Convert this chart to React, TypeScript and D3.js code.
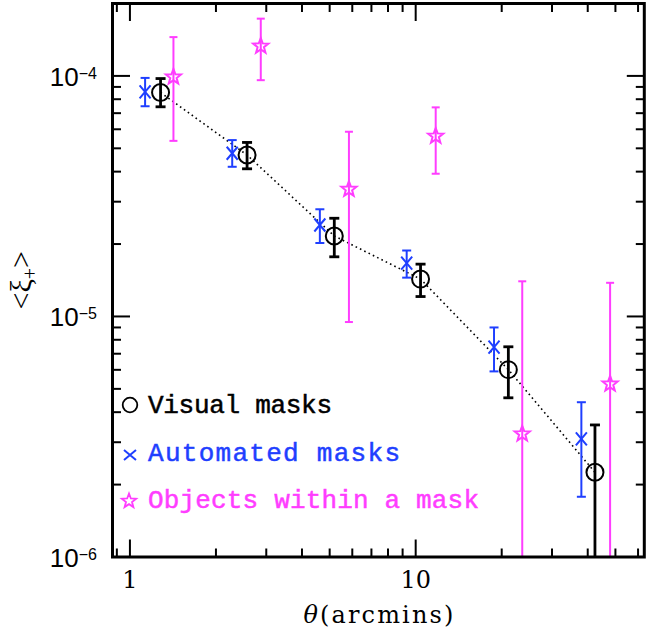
import * as d3 from "d3";

// angular separation (arcmin) and <xi+> with error bar ends; null = bar runs off the bottom axis
const visTheta = [1.28, 2.57, 5.19, 10.4, 21.1, 42.4];
const visXi = [8.53e-5, 4.69e-5, 2.16e-5, 1.43e-5, 6.01e-6, 2.25e-6];
const visHi = [9.75e-5, 5.29e-5, 2.56e-5, 1.65e-5, 7.48e-6, 3.54e-6];
const visLo = [7.44e-5, 4.11e-5, 1.77e-5, 1.21e-5, 4.59e-6, null];

const autoTheta = [1.13, 2.28, 4.62, 9.3, 18.8, 38.0];
const autoXi = [8.58e-5, 4.77e-5, 2.4e-5, 1.665e-5, 7.46e-6, 3.1e-6];
const autoHi = [9.81e-5, 5.41e-5, 2.79e-5, 1.88e-5, 9.0e-6, 4.4e-6];
const autoLo = [7.48e-5, 4.19e-5, 2.02e-5, 1.45e-5, 5.91e-6, 1.78e-6];

const objTheta = [1.42, 2.87, 5.84, 11.75, 23.6, 47.9];
const objXi = [9.9e-5, 1.33e-4, 3.38e-5, 5.62e-5, 3.25e-6, 5.24e-6];
const objHi = [1.45e-4, 1.73e-4, 5.86e-5, 7.4e-5, 1.4e-5, 1.38e-5];
const objLo = [5.37e-5, 9.6e-5, 9.48e-6, 3.92e-5, null, null];

const xMajor = [1, 10];
const xMinor = [0.9, 2, 3, 4, 5, 6, 7, 8, 9, 20, 30, 40, 50, 60];
const yMajor = [1e-6, 1e-5, 1e-4];
const yMajorExp = ["−6", "−5", "−4"];
const yMinor = [2, 3, 4, 5, 6, 7, 8, 9].flatMap((m) => [m * 1e-6, m * 1e-5]);

const legendLabels = ["Visual masks", "Automated masks", "Objects within a mask"];
const legendWidths = [184, 252, 331];

const BLUE = "#1f3fff";
const PINK = "#ff3dff";

const left = 112.5, right = 644.3, top = 3.5, bottom = 557;

const x = d3.scaleLog().domain([0.869, 63.1]).range([left, right]);
const y = d3.scaleLog().domain([1e-6, 2e-4]).range([bottom, top]).clamp(true);

function starPath(cx: number, cy: number, r: number) {
    const pts: [number, number][] = [];
    for (let i = 0; i < 10; i++) {
        const rr = i % 2 === 0 ? r : r * 0.42;
        const a = -Math.PI / 2 + (i * Math.PI) / 5;
        pts.push([cx + rr * Math.cos(a), cy + rr * Math.sin(a)]);
    }
    return d3.line()(pts) + "Z";
}

function ErrBars(props: { xs: number[]; hi: number[]; lo: (number | null)[]; color: string; w: number; cap: number }) {
    const { xs, hi, lo, color, w, cap } = props;
    return (
        <g stroke={color} strokeWidth={w} fill="none">
            {xs.map((t, i) => {
                const px = x(t);
                const yTop = y(hi[i]);
                const yBot = lo[i] == null ? bottom : y(lo[i] as number);
                return (
                    <g key={i}>
                        <line x1={px} x2={px} y1={yTop} y2={yBot} />
                        <line x1={px - cap} x2={px + cap} y1={yTop} y2={yTop} />
                        {lo[i] != null && <line x1={px - cap} x2={px + cap} y1={yBot} y2={yBot} />}
                    </g>
                );
            })}
        </g>
    );
}

export default function App() {
    const dotted = d3
        .line<number>()
        .x((_, i) => x(visTheta[i]))
        .y((d) => y(d))(visXi);

    const tickLines: JSX.Element[] = [];
    const addX = (v: number, len: number, k: string) => {
        const px = x(v);
        tickLines.push(<line key={"xb" + k} x1={px} x2={px} y1={bottom} y2={bottom - len} />);
        tickLines.push(<line key={"xt" + k} x1={px} x2={px} y1={top} y2={top + len} />);
    };
    const addY = (v: number, len: number, k: string) => {
        const py = y(v);
        tickLines.push(<line key={"yl" + k} x1={left} x2={left + len} y1={py} y2={py} />);
        tickLines.push(<line key={"yr" + k} x1={right} x2={right - len} y1={py} y2={py} />);
    };
    xMajor.forEach((v, i) => addX(v, 17.5, "M" + i));
    xMinor.forEach((v, i) => addX(v, 8.5, "m" + i));
    yMajor.forEach((v, i) => addY(v, 17.5, "M" + i));
    yMinor.forEach((v, i) => addY(v, 8.5, "m" + i));

    const legendColors = ["#000", BLUE, PINK];

    return (
        <div style={{ position: "absolute", left: 0, top: 0 }}>
            <svg width={654} height={634} style={{ display: "block", background: "#fff" }}>
                <g stroke="#000" strokeWidth={2}>{tickLines}</g>

                {/* y tick labels */}
                {yMajor.map((v, i) => (
                    <text key={i} x={97} y={y(v) + 9.7} textAnchor="end" fontFamily="Liberation Sans" fontSize={26}>
                        10<tspan dy={-7} fontSize={16}>{yMajorExp[i]}</tspan>
                    </text>
                ))}

                {/* x tick labels */}
                {xMajor.map((v) => (
                    <text key={v} x={x(v)} y={588} textAnchor="middle" fontFamily="DejaVu Serif" fontSize={24}>
                        {v}
                    </text>
                ))}

                <text x={(left + right) / 2} y={623} textAnchor="middle" fontFamily="DejaVu Serif" fontSize={24}
                    textLength={150} lengthAdjust="spacing">
                    <tspan fontStyle="italic">θ</tspan>(arcmins)
                </text>

                <text transform={`translate(31,${(top + bottom) / 2}) rotate(-90)`} textAnchor="middle"
                    fontFamily="Liberation Serif" fontSize={30}>
                    {"<ξ"}<tspan dy={6} fontSize={20}>+</tspan><tspan dy={-6}>{">"}</tspan>
                </text>

                {/* dotted line through visual masks */}
                <path d={dotted || ""} fill="none" stroke="#000" strokeWidth={1.6} strokeDasharray="1.6 3.2" />

                <ErrBars xs={objTheta} hi={objHi} lo={objLo} color={PINK} w={2} cap={4} />
                <ErrBars xs={autoTheta} hi={autoHi} lo={autoLo} color={BLUE} w={2} cap={4.5} />
                <ErrBars xs={visTheta} hi={visHi} lo={visLo} color="#000" w={2.8} cap={5} />

                {objTheta.map((t, i) => (
                    <path key={"s" + i} d={starPath(x(t), y(objXi[i]), 8)} fill="none" stroke={PINK} strokeWidth={2} strokeLinejoin="miter" />
                ))}
                {autoTheta.map((t, i) => {
                    const px = x(t), py = y(autoXi[i]);
                    return (
                        <path key={"x" + i} d={`M${px - 5.5},${py - 6.5}L${px + 5.5},${py + 6.5}M${px - 5.5},${py + 6.5}L${px + 5.5},${py - 6.5}`}
                            stroke={BLUE} strokeWidth={2} fill="none" />
                    );
                })}
                {visTheta.map((t, i) => (
                    <circle key={"c" + i} cx={x(t)} cy={y(visXi[i])} r={8.5} fill="none" stroke="#000" strokeWidth={2} />
                ))}

                {/* legend */}
                <circle cx={130} cy={405} r={7.3} fill="none" stroke="#000" strokeWidth={1.8} />
                <path d="M124,450L136,460M124,460L136,450" stroke={BLUE} strokeWidth={2} />
                <path d={starPath(129, 501, 7.5)} fill="none" stroke={PINK} strokeWidth={1.8} />
                {legendLabels.map((s, i) => (
                    <text key={s} x={148} y={413 + i * 47.5} fontFamily="Liberation Mono" fontSize={26}
                        textLength={legendWidths[i]} lengthAdjust="spacing"
                        fill={legendColors[i]} stroke={legendColors[i]} strokeWidth={0.5}>
                        {s}
                    </text>
                ))}

                {/* frame */}
                <rect x={left} y={top} width={right - left} height={bottom - top} fill="none" stroke="#000" strokeWidth={3} />
            </svg>
        </div>
    );
}
